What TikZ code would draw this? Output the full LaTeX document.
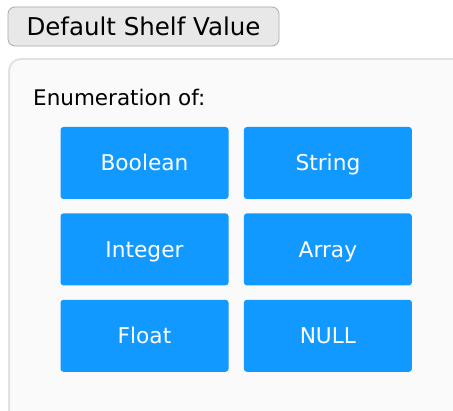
\documentclass[tikz,border=0pt]{standalone}
\usepackage{fontspec}
\setmainfont{DejaVu Sans}
\usetikzlibrary{positioning}
\definecolor{btnblue}{HTML}{1199FF}
\definecolor{panelfill}{HTML}{FAFAFA}
\definecolor{panelline}{HTML}{E2E2E2}
\definecolor{tabfill}{HTML}{E8E8E8}
\definecolor{tabline}{HTML}{ABABAB}

\begin{document}
\begin{tikzpicture}[x=1pt,y=1pt,
	enumbtn/.style={fill=btnblue,rounded corners=3pt,minimum width=168pt,minimum height=72pt,
		inner sep=0pt,text=white,font=\fontsize{21.7}{24}\selectfont,text height=15.8pt,text depth=0pt},
	tab/.style={fill=tabfill,draw=tabline,line width=0.8pt,rounded corners=7pt,minimum width=271pt,
		minimum height=39pt,inner sep=0pt,font=\fontsize{24.5}{28}\selectfont,text height=17.6pt,text depth=0pt}]
	\useasboundingbox (0,0) rectangle (453,-411);
	\clip (0,0) rectangle (453,-411);
	\fill[white] (0,0) rectangle (453,-411);
	\draw[fill=panelfill,draw=panelline,line width=2pt,rounded corners=12pt] (9,-59) rectangle (480,-440);
	\node[tab] (title) at (143.5,-26.5) {Default Shelf Value};
	\node[anchor=base west,inner sep=0pt,font=\fontsize{21.5}{24}\selectfont] (enum) at (33,-106) {Enumeration of:};
	\node[enumbtn] (boolean) at (144.5,-163) {Boolean};
	\node[enumbtn,right=15pt of boolean] (string) {String};
	\node[enumbtn,below=14pt of boolean] (integer) {Integer};
	\node[enumbtn,right=15pt of integer] (array) {Array};
	\node[enumbtn,below=14pt of integer] (float) {Float};
	\node[enumbtn,right=15pt of float] (null) {NULL};
\end{tikzpicture}
\end{document}
